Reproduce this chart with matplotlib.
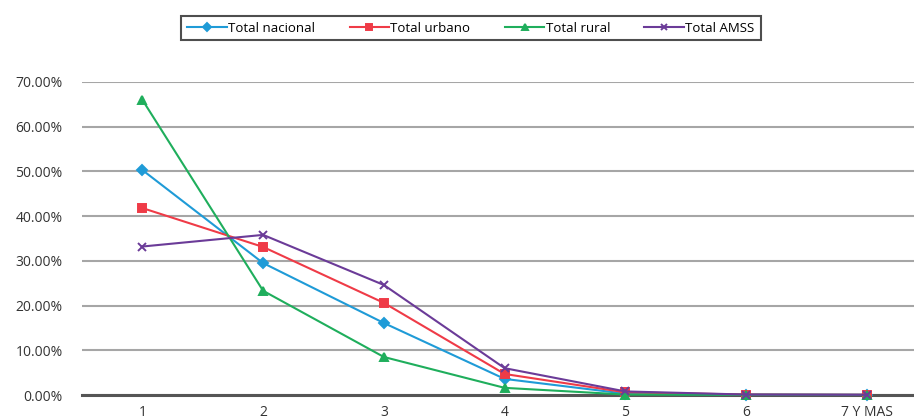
import matplotlib
matplotlib.use('Agg')
import matplotlib.pyplot as plt
from matplotlib.ticker import FuncFormatter

# Share of households by number of members
categorias = ['1', '2', '3', '4', '5', '6', '7 Y MAS']
total_nacional = [50.3, 29.5, 16.1, 3.6, 0.3, 0.1, 0.05]
total_urbano = [41.8, 33.1, 20.6, 4.7, 0.6, 0.1, 0.05]
total_rural = [66.0, 23.3, 8.5, 1.6, 0.1, 0.05, 0.02]
total_amss = [33.2, 35.8, 24.6, 6.0, 0.8, 0.1, 0.05]

plt.rcParams['font.family'] = ['Open Sans', 'DejaVu Sans']

fig = plt.figure(figsize=(9.14, 4.18), dpi=100)
ax = fig.add_axes([0.0897, 0.055, 0.9103, 0.749])

x = list(range(1, len(categorias) + 1))
series = [
    (total_nacional, 'Total nacional', '#1f9bd7', 'D', 5),
    (total_urbano, 'Total urbano', '#ef3b47', 's', 6),
    (total_rural, 'Total rural', '#1fae5c', '^', 6),
    (total_amss, 'Total AMSS', '#6b3b98', 'x', 6),
]
for vals, name, col, mk, ms in series:
    ax.plot(x, [v / 100 for v in vals], color=col, marker=mk, markersize=ms,
            markeredgewidth=1.4, linewidth=1.5, label=name, clip_on=False, zorder=3)

ax.set_ylim(0, 0.70)
ax.set_xlim(0.5, 7.39)
ax.set_yticks([i / 10 for i in range(8)])
ax.yaxis.set_major_formatter(FuncFormatter(lambda v, p: f'{v * 100:.2f}%'))
ax.set_xticks(x)
ax.set_xticklabels(categorias)
ax.grid(axis='y', color='#a6a6a6', linewidth=1.5)
ax.set_axisbelow(True)
for s in ['top', 'right', 'left']:
    ax.spines[s].set_visible(False)
ax.spines['bottom'].set_color('#555555')
ax.spines['bottom'].set_linewidth(2.2)
ax.tick_params(axis='y', length=0, pad=14, labelsize=10, labelcolor='#333333')
ax.tick_params(axis='x', length=0, pad=7, labelsize=10, labelcolor='#333333')

leg = fig.legend(loc='center', bbox_to_anchor=(471 / 914, 1 - 28 / 418), ncol=4,
                 fontsize=9.5, frameon=True, fancybox=False, handlelength=3,
                 markerscale=0.8, columnspacing=2.6, handletextpad=0.1,
                 borderpad=0.45)
leg.get_frame().set_edgecolor('#222222')
leg.get_frame().set_linewidth(1.5)

fig.savefig('out.png', dpi=100)
